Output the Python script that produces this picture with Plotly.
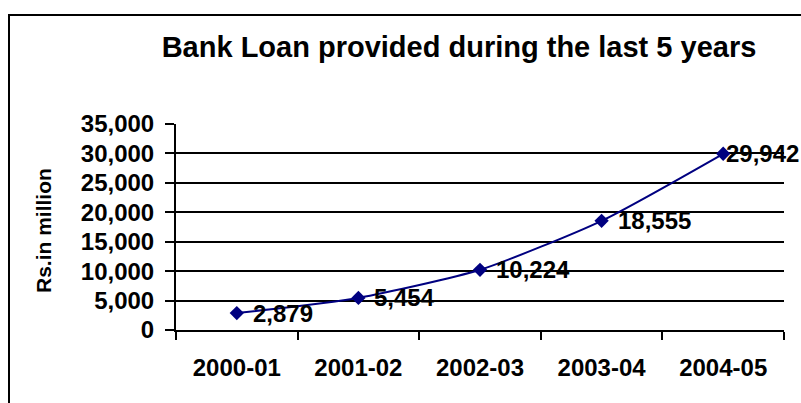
import plotly.graph_objects as go

years = ["2000-01", "2001-02", "2002-03", "2003-04", "2004-05"]
loans = [2879, 5454, 10224, 18555, 29942]
y_ticks = [0, 5000, 10000, 15000, 20000, 25000, 30000, 35000]
title_text = "Bank Loan provided during the last 5 years"
y_title = "Rs.in million"

FONT = "Liberation Sans, Arial, sans-serif"
W, H = 801, 403
L, R, T, B = 176, 17, 124, 73
pw = W - L - R
ph = H - T - B

fig = go.Figure()
fig.add_trace(go.Scatter(
    x=years, y=loans, mode="lines+markers",
    line=dict(color="#000080", width=2, shape="spline", smoothing=0.6),
    marker=dict(symbol="diamond", size=11, color="#000080"),
    cliponaxis=False, showlegend=False, hoverinfo="skip",
))

annotations = []
for i, (yr, v) in enumerate(zip(years, loans)):
    last = i == len(years) - 1
    annotations.append(dict(
        x=yr, y=v, xref="x", yref="y", text=f"<b>{v:,}</b>",
        showarrow=False, xanchor="left", yanchor="middle",
        xshift=1 if last else 14,
        font=dict(family=FONT, size=24, color="black"),
    ))

annotations.append(dict(
    x=(43 - L) / pw, y=(H - B - 231) / ph, xref="paper", yref="paper",
    text=f"<b>{y_title}</b>", textangle=-90, showarrow=False,
    xanchor="center", yanchor="middle",
    font=dict(family=FONT, size=21, color="black"),
))

fig.update_layout(
    width=W, height=H,
    margin=dict(l=L, r=R, t=T, b=B),
    paper_bgcolor="white", plot_bgcolor="white",
    title=dict(text=f"<b>{title_text}</b>", x=459 / W, y=1 - 47 / H,
               xanchor="center", yanchor="middle", xref="container",
               font=dict(family=FONT, size=29, color="black")),
    annotations=annotations,
    shapes=[dict(type="rect", xref="paper", yref="paper",
                 x0=(9 - L) / pw, x1=2, y0=-1, y1=(H - B - 15) / ph,
                 line=dict(color="black", width=2), fillcolor="rgba(0,0,0,0)", layer="below")],
    xaxis=dict(
        type="category", range=[-0.5, 4.5], showgrid=False,
        showline=True, linecolor="black", linewidth=2,
        ticks="outside", tickson="boundaries", ticklen=8, tickwidth=2, tickcolor="black",
        tickfont=dict(family=FONT, size=24, color="black"),
        tickprefix="<b>", ticksuffix="</b>", ticklabelstandoff=15,
    ),
    yaxis=dict(
        range=[0, 35000], tickvals=y_ticks, ticktext=[f"<b>{t:,}</b>" for t in y_ticks],
        showgrid=True, gridcolor="black", gridwidth=1.5,
        showline=True, linecolor="black", linewidth=2, zeroline=False,
        ticks="outside", ticklen=9, tickwidth=2, tickcolor="black",
        tickfont=dict(family=FONT, size=24, color="black"), ticklabelstandoff=6,
    ),
)

fig.write_html("out.html")
